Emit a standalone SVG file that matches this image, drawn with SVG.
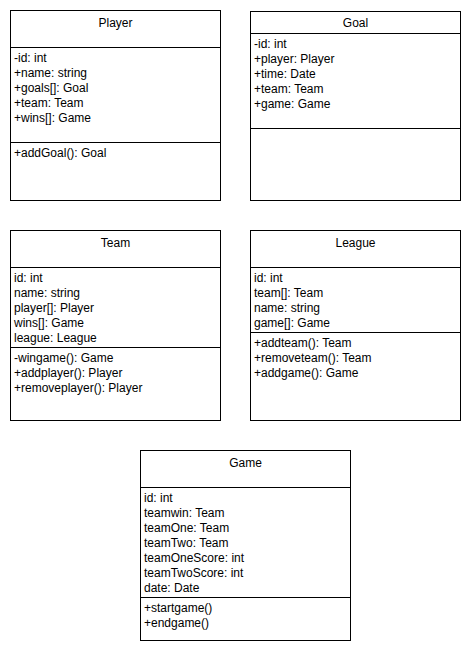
<svg xmlns="http://www.w3.org/2000/svg" width="470" height="650" viewBox="0 0 470 650">
<style>
rect.box{fill:#fff;stroke:#000;stroke-width:1}
line.div{stroke:#000;stroke-width:1}
text{font-family:"Liberation Sans",Arial,Helvetica,sans-serif;font-size:12px;fill:#000;dominant-baseline:central}
text.title{text-anchor:middle}
</style>
<rect width="470" height="650" fill="#fff"/>
<g id="connectors"></g>
<g id="Player">
<rect class="box" x="10.5" y="10.5" width="210" height="190"/>
<line class="div" x1="10.5" y1="47.5" x2="220.5" y2="47.5"/>
<line class="div" x1="10.5" y1="142.5" x2="220.5" y2="142.5"/>
<text class="title" x="115.5" y="23">Player</text>
<text x="14" y="58">-id: int</text>
<text x="14" y="73">+name: string</text>
<text x="14" y="88">+goals[]: Goal</text>
<text x="14" y="103">+team: Team</text>
<text x="14" y="118">+wins[]: Game</text>
<text x="14" y="153">+addGoal(): Goal</text>
</g>
<g id="Goal">
<rect class="box" x="250.5" y="11.5" width="210" height="189"/>
<line class="div" x1="250.5" y1="33.5" x2="460.5" y2="33.5"/>
<line class="div" x1="250.5" y1="128.5" x2="460.5" y2="128.5"/>
<text class="title" x="355.5" y="23">Goal</text>
<text x="254" y="44">-id: int</text>
<text x="254" y="59">+player: Player</text>
<text x="254" y="74">+time: Date</text>
<text x="254" y="89">+team: Team</text>
<text x="254" y="104">+game: Game</text>
</g>
<g id="Team">
<rect class="box" x="10.5" y="230.5" width="210" height="190"/>
<line class="div" x1="10.5" y1="267.5" x2="220.5" y2="267.5"/>
<line class="div" x1="10.5" y1="347.5" x2="220.5" y2="347.5"/>
<text class="title" x="115.5" y="243">Team</text>
<text x="14" y="278">id: int</text>
<text x="14" y="293">name: string</text>
<text x="14" y="308">player[]: Player</text>
<text x="14" y="323">wins[]: Game</text>
<text x="14" y="338">league: League</text>
<text x="14" y="358">-wingame(): Game</text>
<text x="14" y="373">+addplayer(): Player</text>
<text x="14" y="388">+removeplayer(): Player</text>
</g>
<g id="League">
<rect class="box" x="250.5" y="230.5" width="210" height="190"/>
<line class="div" x1="250.5" y1="267.5" x2="460.5" y2="267.5"/>
<line class="div" x1="250.5" y1="332.5" x2="460.5" y2="332.5"/>
<text class="title" x="355.5" y="243">League</text>
<text x="254" y="278">id: int</text>
<text x="254" y="293">team[]: Team</text>
<text x="254" y="308">name: string</text>
<text x="254" y="323">game[]: Game</text>
<text x="254" y="343">+addteam(): Team</text>
<text x="254" y="358">+removeteam(): Team</text>
<text x="254" y="373">+addgame(): Game</text>
</g>
<g id="Game">
<rect class="box" x="140.5" y="450.5" width="210" height="190"/>
<line class="div" x1="140.5" y1="487.5" x2="350.5" y2="487.5"/>
<line class="div" x1="140.5" y1="597.5" x2="350.5" y2="597.5"/>
<text class="title" x="245.5" y="463">Game</text>
<text x="144" y="498">id: int</text>
<text x="144" y="513">teamwin: Team</text>
<text x="144" y="528">teamOne: Team</text>
<text x="144" y="543">teamTwo: Team</text>
<text x="144" y="558">teamOneScore: int</text>
<text x="144" y="573">teamTwoScore: int</text>
<text x="144" y="588">date: Date</text>
<text x="144" y="608">+startgame()</text>
<text x="144" y="623">+endgame()</text>
</g>
</svg>
